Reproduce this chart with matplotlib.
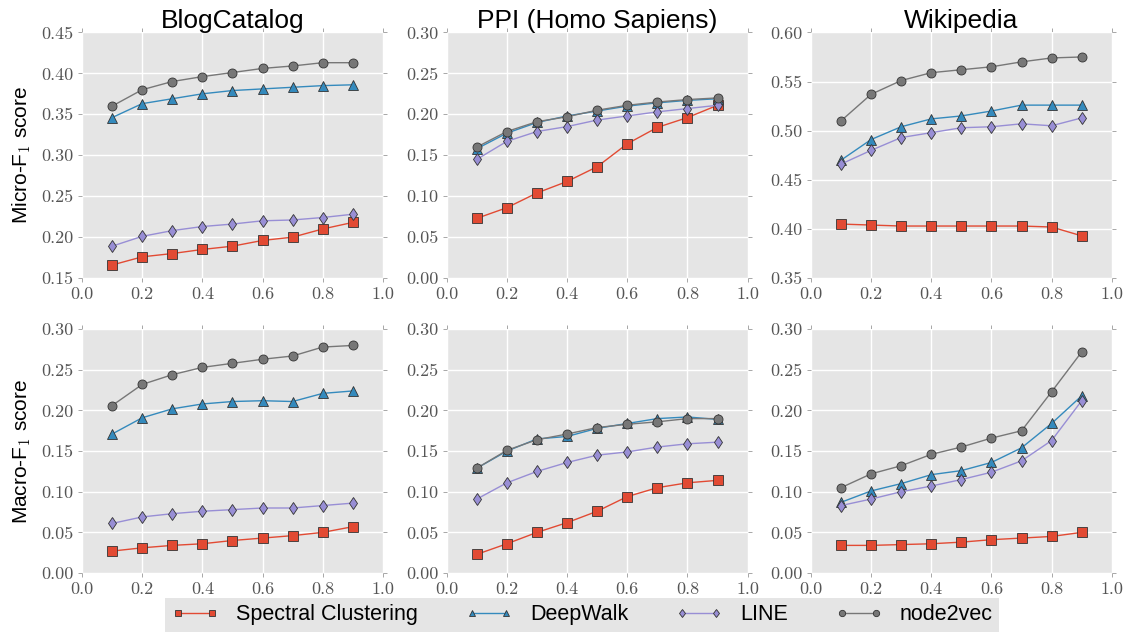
import matplotlib
matplotlib.use("Agg")
import matplotlib.pyplot as plt
from matplotlib.ticker import FormatStrFormatter, MultipleLocator

x = [0.1, 0.2, 0.3, 0.4, 0.5, 0.6, 0.7, 0.8, 0.9]

methods = ["Spectral Clustering", "DeepWalk", "LINE", "node2vec"]
datasets = ["BlogCatalog", "PPI (Homo Sapiens)", "Wikipedia"]

# Micro-F1
blog_micro_sc = [0.166, 0.176, 0.180, 0.185, 0.189, 0.196, 0.200, 0.210, 0.218]
blog_micro_dw = [0.346, 0.363, 0.369, 0.375, 0.379, 0.381, 0.383, 0.385, 0.386]
blog_micro_line = [0.189, 0.201, 0.208, 0.213, 0.216, 0.220, 0.221, 0.224, 0.228]
blog_micro_n2v = [0.360, 0.380, 0.390, 0.396, 0.401, 0.406, 0.409, 0.413, 0.413]

ppi_micro_sc = [0.073, 0.086, 0.104, 0.118, 0.136, 0.164, 0.184, 0.196, 0.211]
ppi_micro_dw = [0.158, 0.177, 0.190, 0.198, 0.204, 0.210, 0.214, 0.217, 0.219]
ppi_micro_line = [0.145, 0.167, 0.179, 0.185, 0.193, 0.198, 0.203, 0.207, 0.211]
ppi_micro_n2v = [0.160, 0.179, 0.191, 0.197, 0.205, 0.211, 0.215, 0.218, 0.220]

wiki_micro_sc = [0.405, 0.404, 0.403, 0.403, 0.403, 0.403, 0.403, 0.402, 0.393]
wiki_micro_dw = [0.470, 0.491, 0.504, 0.512, 0.515, 0.520, 0.526, 0.526, 0.526]
wiki_micro_line = [0.466, 0.480, 0.493, 0.498, 0.503, 0.504, 0.507, 0.505, 0.513]
wiki_micro_n2v = [0.510, 0.537, 0.551, 0.559, 0.562, 0.565, 0.570, 0.574, 0.575]

# Macro-F1
blog_macro_sc = [0.027, 0.031, 0.034, 0.036, 0.040, 0.043, 0.046, 0.050, 0.057]
blog_macro_dw = [0.171, 0.191, 0.202, 0.208, 0.211, 0.212, 0.211, 0.221, 0.224]
blog_macro_line = [0.061, 0.069, 0.073, 0.076, 0.078, 0.080, 0.080, 0.083, 0.086]
blog_macro_n2v = [0.206, 0.232, 0.244, 0.253, 0.258, 0.263, 0.267, 0.278, 0.280]

ppi_macro_sc = [0.023, 0.036, 0.050, 0.062, 0.076, 0.094, 0.105, 0.111, 0.114]
ppi_macro_dw = [0.129, 0.150, 0.165, 0.168, 0.178, 0.184, 0.190, 0.192, 0.189]
ppi_macro_line = [0.091, 0.111, 0.125, 0.136, 0.145, 0.149, 0.155, 0.159, 0.161]
ppi_macro_n2v = [0.129, 0.151, 0.164, 0.171, 0.179, 0.183, 0.186, 0.190, 0.190]

wiki_macro_sc = [0.034, 0.034, 0.035, 0.036, 0.038, 0.041, 0.043, 0.045, 0.050]
wiki_macro_dw = [0.087, 0.101, 0.110, 0.121, 0.126, 0.136, 0.154, 0.184, 0.218]
wiki_macro_line = [0.083, 0.091, 0.100, 0.107, 0.115, 0.124, 0.138, 0.163, 0.212]
wiki_macro_n2v = [0.105, 0.122, 0.132, 0.146, 0.155, 0.166, 0.175, 0.223, 0.272]

micro = [
    [blog_micro_sc, blog_micro_dw, blog_micro_line, blog_micro_n2v],
    [ppi_micro_sc, ppi_micro_dw, ppi_micro_line, ppi_micro_n2v],
    [wiki_micro_sc, wiki_micro_dw, wiki_micro_line, wiki_micro_n2v],
]
macro = [
    [blog_macro_sc, blog_macro_dw, blog_macro_line, blog_macro_n2v],
    [ppi_macro_sc, ppi_macro_dw, ppi_macro_line, ppi_macro_n2v],
    [wiki_macro_sc, wiki_macro_dw, wiki_macro_line, wiki_macro_n2v],
]
micro_ylim = [(0.15, 0.45), (0.0, 0.30), (0.35, 0.60)]
macro_ylim = [(0.0, 0.30), (0.0, 0.30), (0.0, 0.30)]

styles = [
    dict(marker="s", color="#E24A33", markersize=6.5),
    dict(marker="^", color="#348ABD", markersize=6.5),
    dict(marker="d", color="#988ED5", markersize=6.5),
    dict(marker="o", color="#777777", markersize=6.5),
]

plt.rcParams["mathtext.fontset"] = "cm"
sans = "Liberation Sans"

fig = plt.figure(figsize=(11.31, 6.35), dpi=100)

lefts = [0.0725, 0.395, 0.717]
w = 0.266
rows = [(0.562, 0.387), (0.0976, 0.384)]


def drawPanel(ax, series, ylim):
    ax.set_facecolor("#E5E5E5")
    ax.set_axisbelow(True)
    ax.grid(True, color="white", linewidth=1.0)
    for spine in ax.spines.values():
        spine.set_visible(False)
    handles = []
    for vals, st in zip(series, styles):
        (h,) = ax.plot(
            x,
            vals,
            marker=st["marker"],
            color=st["color"],
            markersize=st["markersize"],
            markeredgecolor="#333333",
            markeredgewidth=0.6,
            linewidth=1.0,
        )
        handles.append(h)
    ax.set_xlim(0, 1)
    ax.set_ylim(*ylim)
    ax.xaxis.set_major_locator(MultipleLocator(0.2))
    ax.yaxis.set_major_locator(MultipleLocator(0.05))
    ax.xaxis.set_major_formatter(FormatStrFormatter("%.1f"))
    ax.yaxis.set_major_formatter(FormatStrFormatter("%.2f"))
    ax.tick_params(
        direction="out",
        length=3,
        width=0.6,
        color="#999999",
        labelcolor="#555555",
        labelsize=13,
        labelfontfamily="cmr10",
        top=True,
        right=True,
        pad=3,
    )
    return handles


handles = None
for r, (data, ylims, ylab) in enumerate(
    [(micro, micro_ylim, "Micro-F$_1$ score"), (macro, macro_ylim, "Macro-F$_1$ score")]
):
    bottom, height = rows[r]
    for c in range(3):
        ax = fig.add_axes([lefts[c], bottom, w, height])
        handles = drawPanel(ax, data[c], ylims[c])
        if r == 0:
            ax.set_title(datasets[c], fontsize=19, family=sans, pad=3)
        if c == 0:
            ax.set_ylabel(ylab, fontsize=15, family=sans, labelpad=6)

leg = fig.legend(
    handles,
    methods,
    loc="lower center",
    bbox_to_anchor=(0.5146, -0.012),
    ncol=4,
    numpoints=2,
    frameon=True,
    fancybox=False,
    facecolor="#E5E5E5",
    edgecolor="none",
    framealpha=1.0,
    prop={"family": sans, "size": 15.5},
    handlelength=2.2,
    columnspacing=2.2,
    borderpad=0.3,
    markerscale=0.7,
)

fig.savefig("out.png", dpi=100)
